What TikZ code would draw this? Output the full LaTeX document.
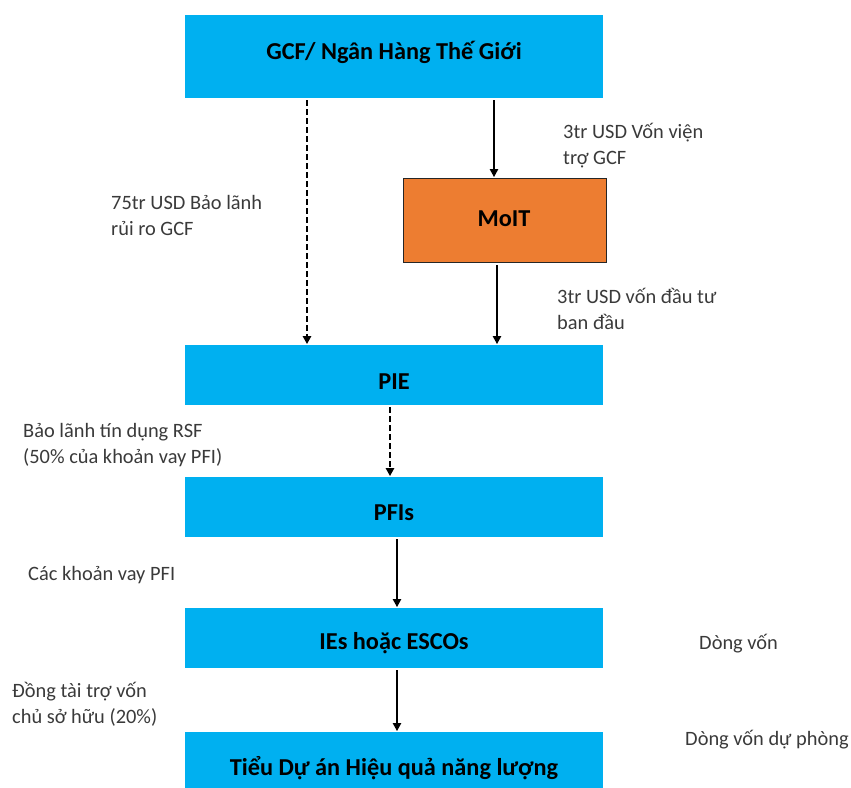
\documentclass[tikz,border=0pt]{standalone}
\usepackage{fontspec}
\setmainfont{Carlito}
\usetikzlibrary{arrows.meta}
\definecolor{boxblue}{HTML}{00B0F0}
\definecolor{moitorange}{HTML}{ED7D31}
\definecolor{labelgray}{HTML}{3A3A3A}
\tikzset{
  bluebox/.style={fill=boxblue, draw=none, minimum width=418pt, minimum height=60pt, inner sep=0pt, anchor=north west},
  orangebox/.style={fill=moitorange, draw=black!85, line width=1.4pt, minimum width=203pt, minimum height=84pt, inner sep=0pt, anchor=north west},
  boxtext/.style={font=\bfseries\fontsize{24.3}{28}\selectfont, anchor=base, inner sep=0pt, text=black},
  lbl/.style={font=\fontsize{20.4}{25.5}\selectfont, anchor=base west, align=left, inner sep=0pt, text=labelgray},
  flow/.style={line width=1.1pt, -{Triangle[width=8.5pt,length=8pt]}, shorten <=2pt, shorten >=1pt},
  reserve/.style={flow, line width=1.5pt, dash pattern=on 5.5pt off 3.5pt}
}
\begin{document}
\begin{tikzpicture}[x=1pt,y=-1pt]
\useasboundingbox (0,0) rectangle (851,787);
% boxes
\node[bluebox, minimum height=83pt] (gcf) at (185,15) {};
\node[orangebox] (moit) at (403,178) {};
\node[bluebox] (pie) at (185,345) {};
\node[bluebox] (pfi) at (185,477) {};
\node[bluebox] (ies) at (185,608) {};
\node[bluebox] (sub) at (185,732) {};
% box texts
\node[boxtext] (tgcf) at (394,59) {GCF/ Ngân Hàng Thế Giới};
\node[boxtext] (tmoit) at (504,226) {MoIT};
\node[boxtext] (tpie) at (394,389) {PIE};
\node[boxtext] (tpfi) at (394,520) {PFIs};
\node[boxtext] (ties) at (394,649) {IEs hoặc ESCOs};
\node[boxtext] (tsub) at (394,775) {Tiểu Dự án Hiệu quả năng lượng};
% x positions of connectors
\coordinate (xa) at (307,0);
\coordinate (xb) at (494,0);
\coordinate (xc) at (497,0);
\coordinate (xd) at (390,0);
\coordinate (xe) at (397,0);
% connectors
\draw[reserve] (gcf.south -| xa) -- (pie.north -| xa);
\draw[flow] (gcf.south -| xb) -- (moit.north -| xb);
\draw[flow] (moit.south -| xc) -- (pie.north -| xc);
\draw[reserve] (pie.south -| xd) -- (pfi.north -| xd);
\draw[flow] (pfi.south -| xe) -- (ies.north -| xe);
\draw[flow] (ies.south -| xe) -- (sub.north -| xe);
% labels (base anchor = baseline of the last line)
\node[lbl] (l1) at (563,164) {3tr USD Vốn viện\\trợ GCF};
\node[lbl] (l2) at (111,235) {75tr USD Bảo lãnh\\rủi ro GCF};
\node[lbl] (l3) at (557,329) {3tr USD vốn đầu tư\\ban đầu};
\node[lbl] (l4) at (23,463) {Bảo lãnh tín dụng RSF\\(50\% của khoản vay PFI)};
\node[lbl] (l5) at (28,580) {Các khoản vay PFI};
\node[lbl] (l6) at (12,723) {Đồng tài trợ vốn\\chủ sở hữu (20\%)};
\node[lbl] (l7) at (699,649) {Dòng vốn};
\node[lbl] (l8) at (685,745) {Dòng vốn dự phòng};
\end{tikzpicture}
\end{document}
